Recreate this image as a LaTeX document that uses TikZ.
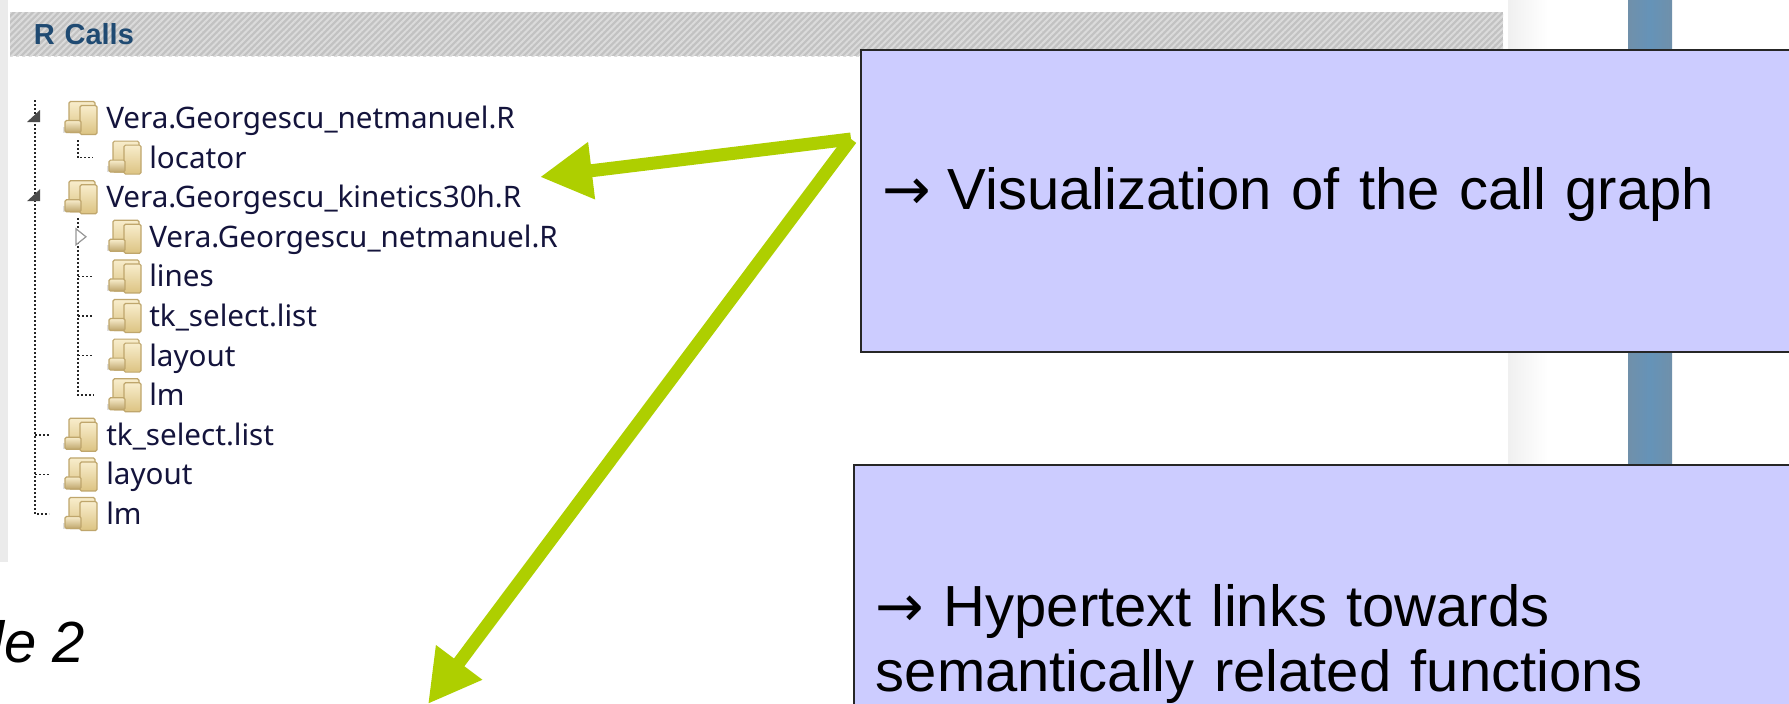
\documentclass[tikz,border=0pt]{standalone}
\usepackage{fontspec}
\setmainfont{Liberation Sans}
\newfontfamily\treefont{Noto Sans}
\newfontfamily\arrowfont{DejaVu Sans}
\usetikzlibrary{positioning}
\usetikzlibrary{arrows.meta, patterns.meta}
\definecolor{boxblue}{HTML}{CCCCFF}
\definecolor{arrowgreen}{HTML}{AECF00}
\definecolor{headnavy}{HTML}{1F4A72}
\definecolor{treeink}{HTML}{14143C}
\definecolor{barblue}{HTML}{6593B8}
\definecolor{baredge}{HTML}{7090AA}
\definecolor{foldtan}{HTML}{BFA66C}
\definecolor{foldmid}{HTML}{DCC382}
\definecolor{foldpale}{HTML}{F8EDCC}

\begin{document}
\begin{tikzpicture}[
            x = 1pt, y = -1pt, % one unit is one pixel of the screenshot
            semithick,
            treeline/.style = {line width=1.6pt, dash pattern=on 2pt off 2pt, black!85},
            callout/.style = {rectangle, draw=black!85, line width=1.5pt, fill=boxblue, anchor=north west,
                text width=960pt, inner xsep=22pt, align=left, font=\fontsize{58}{65}\selectfont},
            greenarrow/.style = {draw=arrowgreen, line width=13pt, -{Triangle[length=52pt,width=54pt,fill=arrowgreen]}},
            filename/.style = {inner sep=0pt, text height=25pt, text depth=4pt, text=treeink,
                font=\treefont\fontsize{29.6}{30}\selectfont},
            folder/.style = {inner sep=0pt, outer sep=0pt, minimum width=34pt, minimum height=33pt},
            foldsheet/.style = {draw=foldtan, line width=1.2pt, rounded corners=1.5pt}
        ]

        % backdrop of the screenshot
        \useasboundingbox (0,0) rectangle (1789,704);
        \fill[white] (0,0) rectangle (1789,704);
        \fill[black!8] (0,0) rectangle (8,562);
        \shade[left color=black!6, right color=white] (1508,0) rectangle (1548,464);
        \shade[left color=baredge, right color=baredge, middle color=barblue] (1628,0) rectangle (1672,464);

        \node[rectangle, anchor=north west, inner xsep=24pt, inner ysep=0pt, minimum height=44pt, text width=1445pt,
            preaction={fill=black!24}, pattern={Lines[angle=45,distance=4.5pt,line width=2pt]}, pattern color=black!14,
            text=headnavy, font=\bfseries\fontsize{29}{30}\selectfont] (header) at (9,11) {R Calls};

       \node[folder] (FNet) at (80,118) {};
       \node[filename] (LNet) [right = 9pt of FNet] {Vera.Georgescu\_netmanuel.R};

       \node[folder] (FLoc) [below = 6.6pt of FNet, xshift=44pt] {};
       \node[filename] (LLoc) [right = 8pt of FLoc] {locator};

       \node[folder] (FKin) [below = 6.6pt of FLoc, xshift=-44pt] {};
       \node[filename] (LKin) [right = 9pt of FKin] {Vera.Georgescu\_kinetics30h.R};

       \node[folder] (FNetB) [below = 6.6pt of FKin, xshift=44pt] {};
       \node[filename] (LNetB) [right = 8pt of FNetB] {Vera.Georgescu\_netmanuel.R};
       \node[folder] (FLines) [below = 6.6pt of FNetB] {};
       \node[filename] (LLines) [right = 8pt of FLines] {lines};
       \node[folder] (FSel) [below = 6.6pt of FLines] {};
       \node[filename] (LSel) [right = 8pt of FSel] {tk\_select.list};
       \node[folder] (FLay) [below = 6.6pt of FSel] {};
       \node[filename] (LLay) [right = 8pt of FLay] {layout};
       \node[folder] (FLm) [below = 6.6pt of FLay] {};
       \node[filename] (LLm) [right = 8pt of FLm] {lm};

       \node[folder] (FSelB) [below = 6.6pt of FLm, xshift=-44pt] {};
       \node[filename] (LSelB) [right = 9pt of FSelB] {tk\_select.list};
       \node[folder] (FLayB) [below = 6.6pt of FSelB] {};
       \node[filename] (LLayB) [right = 9pt of FLayB] {layout};
       \node[folder] (FLmB) [below = 6.6pt of FLayB] {};
       \node[filename] (LLmB) [right = 9pt of FLmB] {lm};

	% the folder icons
	\foreach \f in {FNet,FLoc,FKin,FNetB,FLines,FSel,FLay,FLm,FSelB,FLayB,FLmB} {
	    \begin{scope}[shift={(\f.north west)}]
	        \fill[black!12] (0,25) rectangle (6,31);
	        \shade[foldsheet, top color=foldpale, bottom color=foldmid] (6,31) rectangle (32,0);
	        \shade[foldsheet, top color=foldpale, bottom color=foldmid] (17,33) rectangle (34,4);
	        \shade[foldsheet, top color=foldpale, bottom color=foldtan] (2,31) rectangle (18,19);
	    \end{scope}
	}

	\coordinate (treeroot) at (35,100);
	\coordinate (locroot) at (78,140);
	\coordinate (kinroot) at (78,218);

	\draw[treeline] (treeroot) |- ([xshift=-14pt]FLmB.west);
	\draw[treeline] (treeroot |- FSelB.west) -- ([xshift=-14pt]FSelB.west);
	\draw[treeline] (treeroot |- FLayB.west) -- ([xshift=-14pt]FLayB.west);
	\draw[treeline] (locroot) |- ([xshift=-14pt]FLoc.west);
	\draw[treeline] (kinroot) |- ([xshift=-14pt]FLm.west);
	\draw[treeline] (kinroot |- FLines.west) -- ([xshift=-14pt]FLines.west);
	\draw[treeline] (kinroot |- FSel.west) -- ([xshift=-14pt]FSel.west);
	\draw[treeline] (kinroot |- FLay.west) -- ([xshift=-14pt]FLay.west);

	% expand markers
	\fill[black!70] (treeroot |- FNet.west) ++(5,-8) -- ++(0,12) -- ++(-13,0) -- cycle;
	\fill[black!70] (treeroot |- FKin.west) ++(5,-8) -- ++(0,12) -- ++(-13,0) -- cycle;
	\filldraw[fill=white, draw=black!40, line width=1.2pt] (kinroot |- FNetB.west) ++(-2,-8) -- ++(10,8) -- ++(-10,8) -- cycle;

	\node[callout, minimum height=302pt, text depth=24pt] (boxgraph) at (860,49) {{\arrowfont →}\hspace{-3pt} Visualization of the call graph};
	\node[callout, minimum height=359pt] (boxlinks) at (853,464) {{\arrowfont →} Hypertext links towards\\semantically related functions};

	\node[anchor=base east, inner sep=0pt, font=\itshape\fontsize{58}{60}\selectfont] (pagelabel) at (85,662) {le 2};

	\coordinate (armstart) at (851,139);
	\coordinate (tiptree) at (540,177);
	\coordinate (tipdown) at (428,704);

	\path
            (armstart)    edge[greenarrow]  (tiptree)
            (armstart)    edge[greenarrow]  (tipdown);

  \end{tikzpicture}
\end{document}
